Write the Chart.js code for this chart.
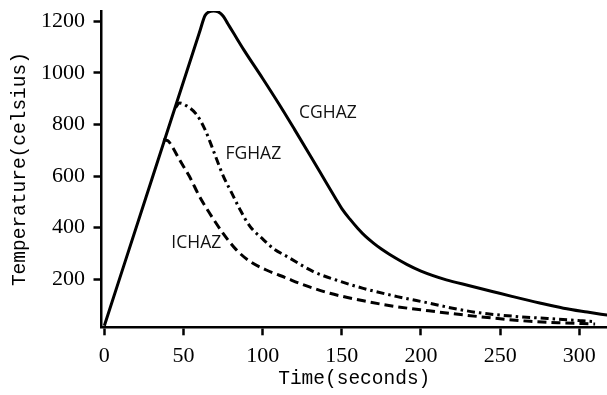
<!DOCTYPE html>
<html>
<head>
<meta charset="utf-8">
<script src="https://cdn.jsdelivr.net/npm/chart.js@4/dist/chart.umd.min.js"></script>
<style>
html,body{margin:0;padding:0;background:#fff;}
#c{display:block;}
</style>
</head>
<body>
<canvas id="c" width="607" height="395"></canvas>
<script>
// ---- data (time in s, temperature in °C) ----
const cgTime = [0, 30, 60, 63.6, 66, 69, 72, 75, 78, 81.5, 88, 100, 110, 120, 130, 140, 146, 150, 155, 160, 165, 170, 175, 180, 191, 200, 216, 230, 245, 258, 275, 290, 305, 318];
const cgTemp = [20, 588, 1155, 1222, 1236, 1240, 1236, 1220, 1190, 1155, 1090, 978, 882, 782, 680, 576, 514, 474, 434, 398, 366, 340, 317, 297, 258, 232, 198, 176, 153, 133, 108, 88, 73, 61];

const fgTime = [45, 47.5, 52, 58.3, 63.6, 67.8, 71, 75.2, 80.5, 85.7, 92, 100.4, 107, 115.2, 132, 150, 163.5, 185, 205.7, 220, 237, 260, 280, 300, 310];
const fgTemp = [866, 883, 872, 838, 780, 716, 664, 599, 534, 470, 405, 354, 318, 289, 230, 190, 165, 133, 107, 88, 70, 56, 48, 40, 36];

const icTime = [37, 40, 42.2, 47.5, 53.8, 60, 66.5, 75, 83.4, 91.8, 102.3, 115, 123.4, 142.4, 165, 184.6, 205, 226.8, 250, 269, 290, 310];
const icTemp = [740, 737, 721, 663, 598, 522, 456, 378, 314, 270, 236, 205, 184, 146, 115, 94, 78, 62, 47, 37, 31, 27];

const xTickValues = [0, 50, 100, 150, 200, 250, 300];
const yTickValues = [200, 400, 600, 800, 1000, 1200];

const seriesNames = ['CGHAZ', 'FGHAZ', 'ICHAZ'];
// label anchors (data coords: left edge time, vertical centre temperature)
const labelTime = [123, 76.5, 42.3];
const labelTemp = [843, 684, 342];

const xTitle = 'Time(seconds)';
const yTitle = 'Temperature(celsius)';

function pts(xs, ys) { return xs.map((x, i) => ({x: x, y: ys[i]})); }

const seriesLabels = {
  id: 'seriesLabels',
  afterDatasetsDraw(chart) {
    const ctx = chart.ctx;
    const xs = chart.scales.x, ys = chart.scales.y;
    ctx.save();
    ctx.fillStyle = '#111';
    ctx.font = '17.5px "Open Sans"';
    ctx.textAlign = 'left';
    ctx.textBaseline = 'middle';
    seriesNames.forEach((n, i) => {
      ctx.fillText(n, xs.getPixelForValue(labelTime[i]), ys.getPixelForValue(labelTemp[i]));
    });
    ctx.restore();
  }
};

const tickFont = {family: '"Liberation Serif"', size: 22};
const titleFont = {family: '"Liberation Mono"', size: 19.5};

new Chart(document.getElementById('c'), {
  type: 'line',
  data: {
    datasets: [
      {label: seriesNames[0], data: pts(cgTime, cgTemp), borderColor: '#000', borderWidth: 3, pointRadius: 0, fill: false, cubicInterpolationMode: 'monotone'},
      {label: seriesNames[1], data: pts(fgTime, fgTemp), borderColor: '#000', borderWidth: 3, borderDash: [8, 4, 2.5, 4], pointRadius: 0, fill: false, cubicInterpolationMode: 'monotone'},
      {label: seriesNames[2], data: pts(icTime, icTemp), borderColor: '#000', borderWidth: 3, borderDash: [9, 5], pointRadius: 0, fill: false, cubicInterpolationMode: 'monotone'}
    ]
  },
  options: {
    responsive: false,
    animation: false,
    devicePixelRatio: 1,
    layout: {padding: {top: 10.9, right: 0, left: 0, bottom: 0}},
    plugins: {legend: {display: false}, tooltip: {enabled: false}},
    scales: {
      x: {
        type: 'linear', min: -1.8, max: 317.5,
        afterBuildTicks: s => { s.ticks = xTickValues.map(v => ({value: v})); },
        afterFit: s => { s.height = 67.7; s.paddingLeft = 0; s.paddingRight = 0; },
        border: {display: true, color: '#000', width: 2.5},
        grid: {drawOnChartArea: false, drawTicks: true, tickLength: 8, tickWidth: 2.5, tickColor: '#000'},
        ticks: {color: '#000', font: tickFont, padding: 8, maxRotation: 0, callback: v => String(v)},
        title: {display: true, text: xTitle, color: '#000', font: titleFont, padding: {top: 0, bottom: 4.6}}
      },
      y: {
        type: 'linear', min: 14, max: 1240,
        afterBuildTicks: s => { s.ticks = yTickValues.map(v => ({value: v})); },
        afterFit: s => { s.width = 101.5; s.paddingTop = 0; s.paddingBottom = 0; },
        border: {display: true, color: '#000', width: 2.5},
        grid: {drawOnChartArea: false, drawTicks: true, tickLength: 8, tickWidth: 2.5, tickColor: '#000'},
        ticks: {color: '#000', font: tickFont, padding: 8.5, callback: v => String(v)},
        title: {display: true, text: yTitle, color: '#000', font: titleFont, padding: {top: 8.6, bottom: 0}}
      }
    }
  },
  plugins: [seriesLabels]
});
</script>
</body>
</html>
